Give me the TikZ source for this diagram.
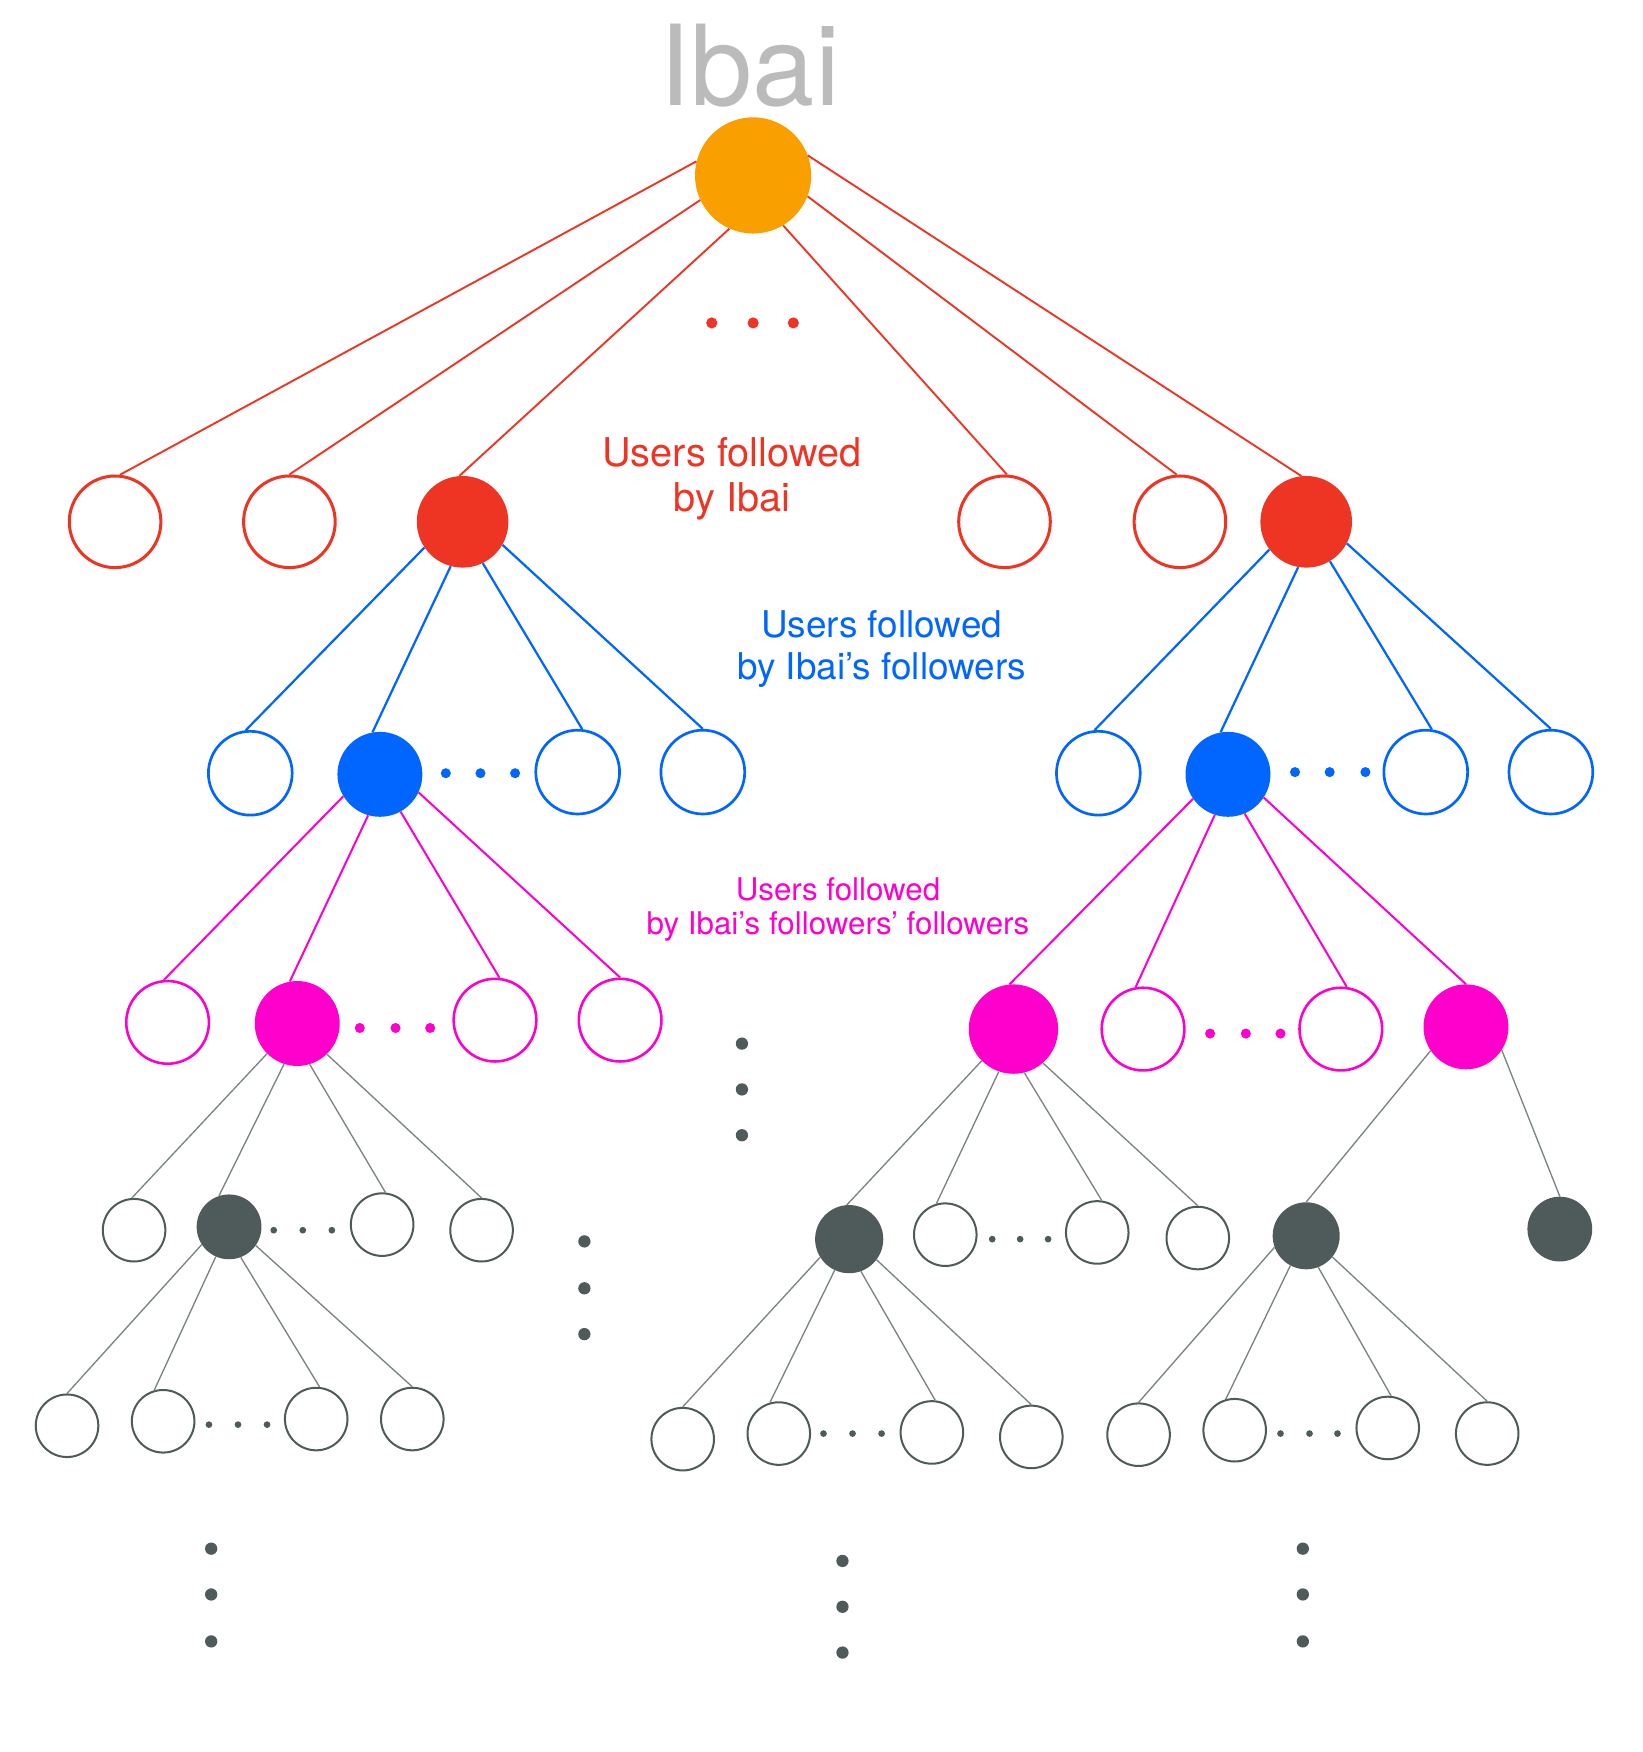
\documentclass[tikz,border=0pt]{standalone}
\usepackage{fontspec}
\setmainfont{TeX Gyre Heros}
\definecolor{cOr}{HTML}{F9A000}
\definecolor{cRd}{HTML}{EE3524}
\definecolor{cBl}{HTML}{0066FF}
\definecolor{cMg}{HTML}{FF00CC}
\definecolor{cGy}{HTML}{4F5B5A}
\definecolor{cTx}{HTML}{BBBBBB}
\definecolor{cLn}{HTML}{7A8483}
\begin{document}
\begin{tikzpicture}[x=1pt,y=-1pt,
  base/.style={circle,inner sep=0pt,minimum size=#1},
  rootnode/.style={base=104pt,fill=cOr},
  redo/.style={base=82pt,draw=cRd,line width=2.7pt,fill=white},
  redf/.style={base=82pt,fill=cRd},
  blueo/.style={base=75pt,draw=cBl,line width=2.4pt,fill=white},
  bluef/.style={base=76pt,fill=cBl},
  mago/.style={base=74pt,draw=cMg,line width=2.3pt,fill=white},
  magf/.style={base=#1,fill=cMg},
  grayo/.style={base=56pt,draw=cGy,line width=1.8pt,fill=white},
  grayf/.style={base=#1,fill=cGy},
  redline/.style={draw=cRd,line width=1.7pt},
  blueline/.style={draw=cBl,line width=2pt},
  magline/.style={draw=cMg,line width=1.8pt},
  grayline/.style={draw=cLn,line width=1.2pt},
  dotn/.style={circle,inner sep=0pt,fill=#1},
  lbl/.style={align=center,inner sep=0pt,anchor=north}
]
\useasboundingbox (0,0) rectangle (1470,1568);

% title
\node[anchor=base,inner sep=0pt,text=cTx,font=\fontsize{100}{100}\selectfont] (title) at (671,94) {Ibai};

% root
\node[rootnode] (root) at (674,157) {};

% level 1
\node[redo] (a1) at (103,467) {};
\node[redo] (a2) at (259,467) {};
\node[redf] (a3) at (414,467) {};
\node[redo] (a4) at (899,467) {};
\node[redo] (a5) at (1056,467) {};
\node[redf] (a6) at (1169,467) {};
\foreach \x [count=\i] in {637,674,710} \node[dotn=cRd,minimum size=10pt] (rd\i) at (\x,289) {};

% level 2
\node[blueo] (b1) at (224,692) {};
\node[bluef] (b2) at (340,693) {};
\node[blueo] (b3) at (517,691) {};
\node[blueo] (b4) at (629,691) {};
\node[blueo] (b5) at (983,692) {};
\node[bluef] (b6) at (1099,693) {};
\node[blueo] (b7) at (1276,691) {};
\node[blueo] (b8) at (1388,691) {};
\foreach \x [count=\i] in {399,430,461} \node[dotn=cBl,minimum size=9pt] (bdl\i) at (\x,692) {};
\foreach \x [count=\i] in {1159,1190,1222} \node[dotn=cBl,minimum size=9pt] (bdr\i) at (\x,691) {};

% level 3
\node[mago] (c1) at (150,915) {};
\node[magf=76pt] (c2) at (266,916) {};
\node[mago] (c3) at (443,913) {};
\node[mago] (c4) at (555,913) {};
\node[magf=80pt] (c5) at (907,921) {};
\node[mago] (c6) at (1023,921) {};
\node[mago] (c7) at (1200,921) {};
\node[magf=76pt] (c8) at (1312,919) {};
\foreach \x [count=\i] in {322,354,385} \node[dotn=cMg,minimum size=9pt] (mdl\i) at (\x,920) {};
\foreach \x [count=\i] in {1083,1115,1146} \node[dotn=cMg,minimum size=9pt] (mdr\i) at (\x,925) {};

% level 4
\node[grayo] (d1) at (120,1101) {};
\node[grayf=58pt] (d2) at (205,1098) {};
\node[grayo] (d3) at (342,1096) {};
\node[grayo] (d4) at (431,1101) {};
\node[grayf=61pt] (d5) at (760,1109) {};
\node[grayo] (d6) at (846,1105) {};
\node[grayo] (d7) at (982,1103) {};
\node[grayo] (d8) at (1072,1108) {};
\node[grayf=60pt] (d9) at (1169,1106) {};
\node[grayf=58pt] (d10) at (1396,1100) {};
\foreach \x [count=\i] in {245,271,297} \node[dotn=cGy,minimum size=6pt] (gdl\i) at (\x,1101) {};
\foreach \x [count=\i] in {888,913,938} \node[dotn=cGy,minimum size=6pt] (gdm\i) at (\x,1109) {};

% level 5
\node[grayo] (e1) at (60,1276) {};
\node[grayo] (e2) at (146,1272) {};
\node[grayo] (e3) at (283,1270) {};
\node[grayo] (e4) at (369,1270) {};
\node[grayo] (e5) at (611,1288) {};
\node[grayo] (e6) at (697,1283) {};
\node[grayo] (e7) at (834,1282) {};
\node[grayo] (e8) at (923,1286) {};
\node[grayo] (e9) at (1019,1284) {};
\node[grayo] (e10) at (1105,1280) {};
\node[grayo] (e11) at (1242,1278) {};
\node[grayo] (e12) at (1331,1283) {};
\foreach \x [count=\i] in {187,213,239} \node[dotn=cGy,minimum size=6pt] (hdl\i) at (\x,1275) {};
\foreach \x [count=\i] in {737,763,789} \node[dotn=cGy,minimum size=6pt] (hdm\i) at (\x,1283) {};
\foreach \x [count=\i] in {1146,1172,1197} \node[dotn=cGy,minimum size=6pt] (hdr\i) at (\x,1283) {};

% vertical ellipses
\foreach \y [count=\i] in {934,975,1016} \node[dotn=cGy,minimum size=11pt] (va\i) at (664,\y) {};
\foreach \y [count=\i] in {1111,1153,1194} \node[dotn=cGy,minimum size=11pt] (vb\i) at (523,\y) {};
\foreach \y [count=\i] in {1386,1427,1469} \node[dotn=cGy,minimum size=11pt] (vc\i) at (189,\y) {};
\foreach \y [count=\i] in {1397,1438,1479} \node[dotn=cGy,minimum size=11pt] (vd\i) at (754,\y) {};
\foreach \y [count=\i] in {1386,1427,1469} \node[dotn=cGy,minimum size=11pt] (ve\i) at (1166,\y) {};

% labels
\node[lbl,text=cRd,font=\fontsize{35.5}{41}\selectfont] (lab1) at (655,391) {Users followed\\by Ibai};
\node[lbl,text=cBl,font=\fontsize{33}{38}\selectfont] (lab2) at (789,546) {Users followed\\by Ibai’s followers};
\node[lbl,text=cMg,font=\fontsize{28}{31}\selectfont] (lab3) at (750,785) {Users followed\\by Ibai’s followers’ followers};

% edges: root -> level 1
\draw[redline] (root.166) -- (a1.84);
\draw[redline] (root.205) -- (a2.90);
\draw[redline] (root.246) -- (a3.94);
\draw[redline] (root.301) -- (a4.87);
\draw[redline] (root.339) -- (a5.94);
\draw[redline] (root.20) -- (a6.96);
% level 1 -> level 2
\draw[blueline] (a3.214) -- (b1.96);
\draw[blueline] (a3.255) -- (b2.100);
\draw[blueline] (a3.296) -- (b3.84);
\draw[blueline] (a3.330) -- (b4.90);
\draw[blueline] (a6.217) -- (b5.95);
\draw[blueline] (a6.260) -- (b6.100);
\draw[blueline] (a6.301) -- (b7.82);
\draw[blueline] (a6.332) -- (b8.90);
% level 2 -> level 3
\draw[magline] (b2.211) -- (c1.95);
\draw[magline] (b2.254) -- (c2.100);
\draw[magline] (b2.299) -- (c3.84);
\draw[magline] (b2.335) -- (c4.90);
\draw[magline] (b6.215) -- (c5.95);
\draw[magline] (b6.252) -- (c6.100);
\draw[magline] (b6.293) -- (c7.82);
\draw[magline] (b6.327) -- (c8.90);
% level 3 -> level 4
\draw[grayline] (c2.225) -- (d1.94);
\draw[grayline] (c2.252) -- (d2.108);
\draw[grayline] (c2.287) -- (d3.84);
\draw[grayline] (c2.314) -- (d4.90);
\draw[grayline] (c5.225) -- (d5.94);
\draw[grayline] (c5.251) -- (d6.106);
\draw[grayline] (c5.284) -- (d7.82);
\draw[grayline] (c5.311) -- (d8.90);
\draw[grayline] (c8.214) -- (d9.90);
\draw[grayline] (c8.327) -- (d10.90);
% level 4 -> level 5
\draw[grayline] (d2.213) -- (e1.90);
\draw[grayline] (d2.246) -- (e2.106);
\draw[grayline] (d2.291) -- (e3.84);
\draw[grayline] (d2.325) -- (e4.90);
\draw[grayline] (d5.212) -- (e5.90);
\draw[grayline] (d5.245) -- (e6.106);
\draw[grayline] (d5.290) -- (e7.84);
\draw[grayline] (d5.323) -- (e8.90);
\draw[grayline] (d9.200) -- (e9.90);
\draw[grayline] (d9.242) -- (e10.106);
\draw[grayline] (d9.291) -- (e11.84);
\draw[grayline] (d9.321) -- (e12.90);
\end{tikzpicture}
\end{document}
